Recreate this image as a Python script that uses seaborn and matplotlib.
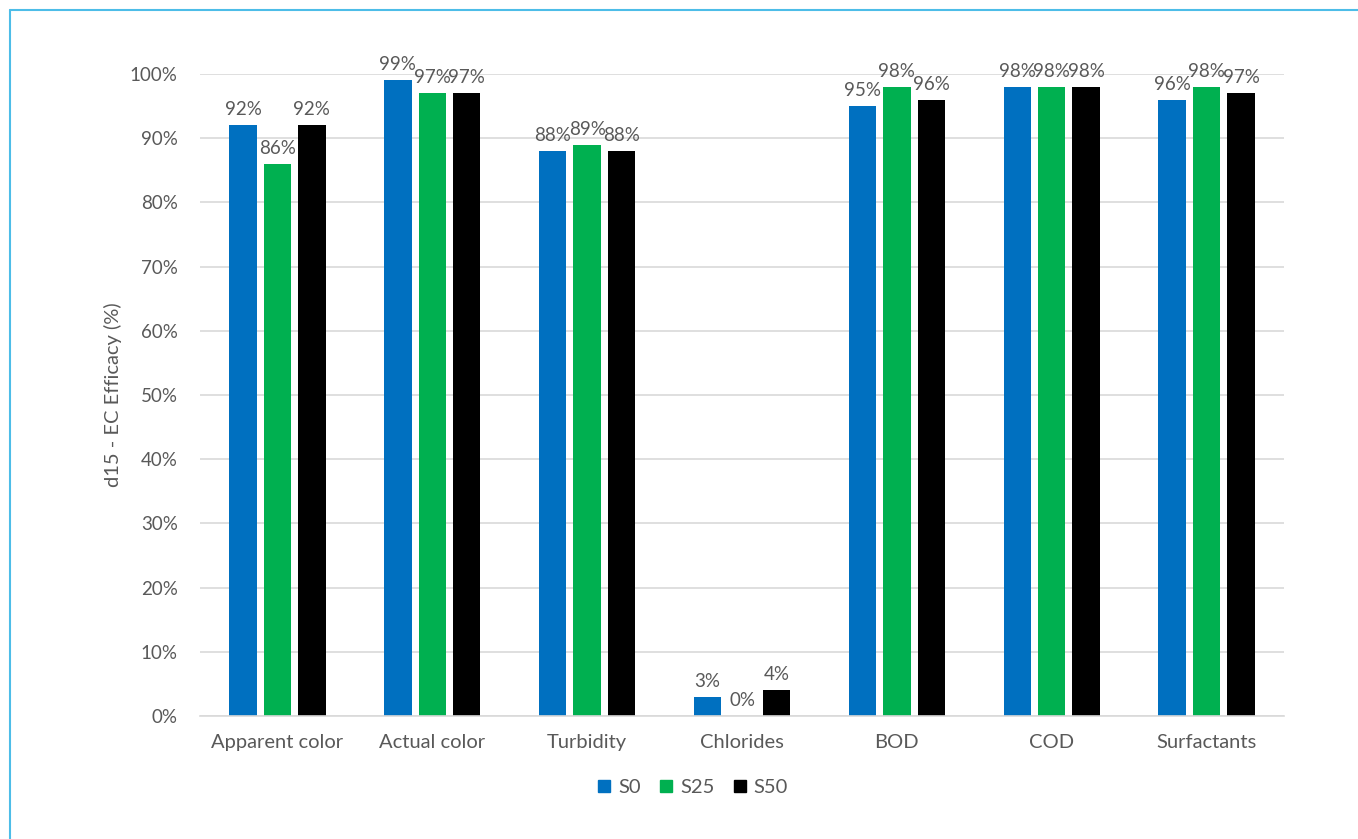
import matplotlib
matplotlib.use("Agg")
import matplotlib.pyplot as plt
import seaborn as sns
import pandas as pd
from matplotlib.lines import Line2D
from matplotlib.ticker import FuncFormatter

categories = ["Apparent color", "Actual color", "Turbidity", "Chlorides", "BOD", "COD", "Surfactants"]
series_names = ["S0", "S25", "S50"]
s0 = [92, 99, 88, 3, 95, 98, 96]
s25 = [86, 97, 89, 0, 98, 98, 98]
s50 = [92, 97, 88, 4, 96, 98, 97]
colors = ["#0070C0", "#00B050", "#000000"]
y_ticks = list(range(0, 101, 10))

rows = []
for name, vals in zip(series_names, [s0, s25, s50]):
    for c, v in zip(categories, vals):
        rows.append({"category": c, "series": name, "value": v})
df = pd.DataFrame(rows)

sns.set_theme(style="white")
plt.rcParams['font.family'] = ['Lato', 'DejaVu Sans']
text_color = "#595959"

fig = plt.figure(figsize=(13.58, 8.39), dpi=100)
ax = fig.add_axes([200/1358, 1-716/839, 1084/1358, (716-74)/839])

sns.barplot(data=df, x="category", y="value", hue="series", order=categories,
            hue_order=series_names, palette=colors, width=0.667, gap=0.2,
            saturation=1, ax=ax, legend=False, linewidth=0)

for cont in ax.containers:
    ax.bar_label(cont, fmt="%d%%", padding=5, color=text_color, fontsize=13.5)

ax.set_ylim(0, 100)
ax.set_xlim(-0.5, len(categories) - 0.5)
ax.set_yticks(y_ticks)
ax.yaxis.set_major_formatter(FuncFormatter(lambda v, p: f"{int(v)}%"))
ax.grid(axis="y", color="#D9D9D9", linewidth=1.2)
ax.set_axisbelow(True)
for s in ["top", "right", "left"]:
    ax.spines[s].set_visible(False)
ax.spines["bottom"].set_color("#D9D9D9")
ax.spines["bottom"].set_linewidth(1.2)
ax.tick_params(axis="y", length=0, colors=text_color, labelsize=13.5, pad=16)
ax.tick_params(axis="x", length=0, colors=text_color, labelsize=14.5, pad=13)
ax.set_xlabel("")
ax.set_ylabel("d15 - EC Efficacy (%)", color=text_color, fontsize=14.5)
ax.yaxis.set_label_coords(-0.072, 0.5)

handles = [Line2D([0], [0], marker="s", linestyle="none", markersize=9,
                  markerfacecolor=c, markeredgecolor=c) for c in colors]
fig.legend(handles, series_names, loc="center", bbox_to_anchor=(0.51, 1-787/839),
           ncol=3, frameon=False, fontsize=14.5, labelcolor=text_color,
           handletextpad=0.35, columnspacing=0.9, handlelength=0.7)

border = "#4DBDE8"
fig.add_artist(Line2D([10/1358, 1], [1-10/839, 1-10/839], transform=fig.transFigure,
                      color=border, linewidth=1.5))
fig.add_artist(Line2D([10/1358, 10/1358], [0, 1-10/839], transform=fig.transFigure,
                      color=border, linewidth=1.5))

fig.savefig("out.png", dpi=100)
